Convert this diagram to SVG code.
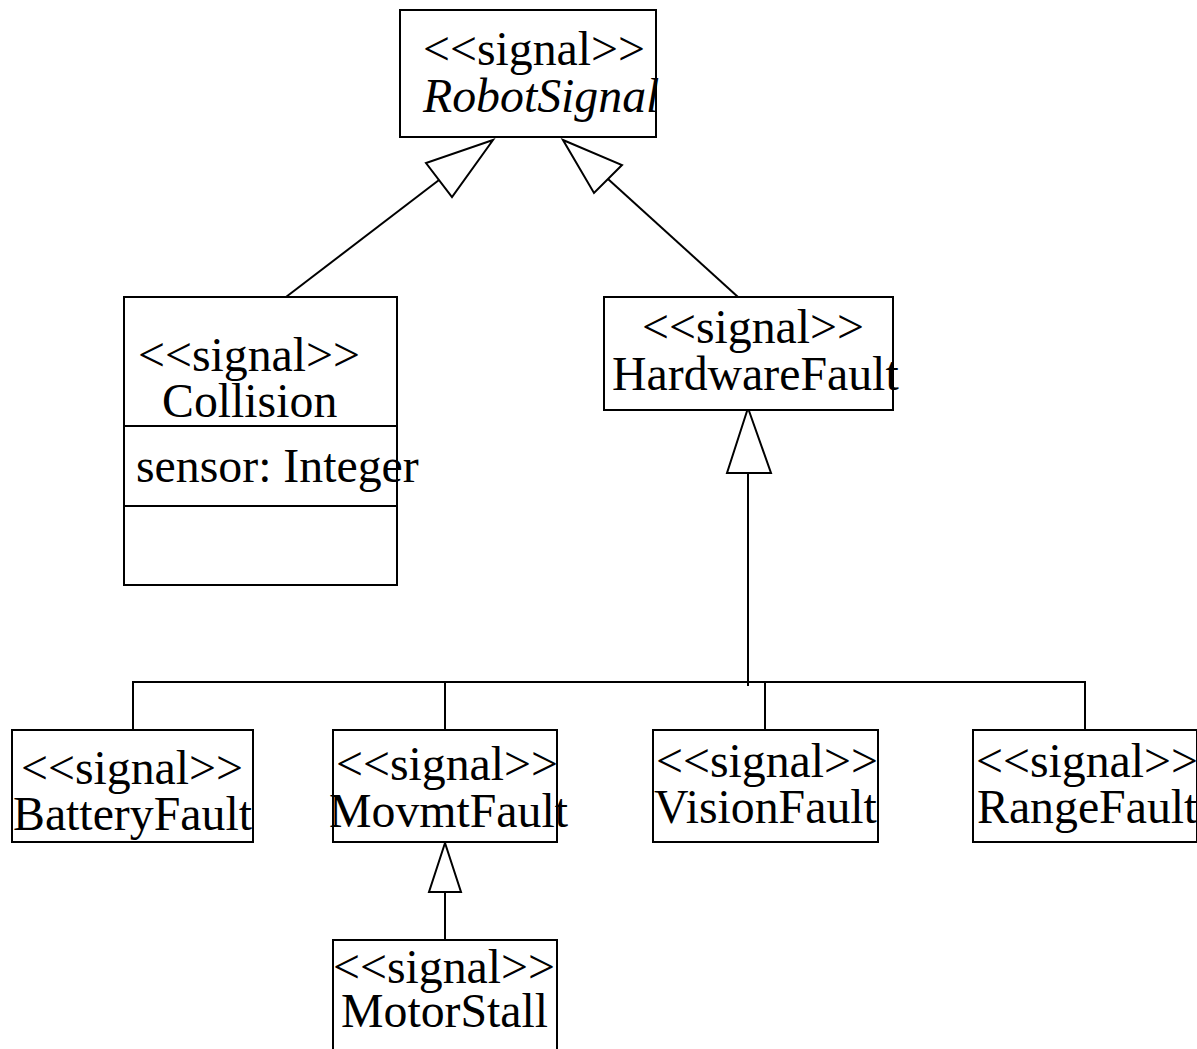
<svg xmlns="http://www.w3.org/2000/svg" width="1197" height="1049" viewBox="0 0 1197 1049">
  <style>
    .box { fill: #ffffff; stroke: #000000; stroke-width: 2; }
    .edge { fill: none; stroke: #000000; stroke-width: 2; }
    .head { fill: #ffffff; stroke: #000000; stroke-width: 2; stroke-linejoin: miter; }
    text { font-family: "Liberation Serif", "Times New Roman", serif; font-size: 47.8px; fill: #000000; }
    .abstract { font-style: italic; }
  </style>
  <rect width="1197" height="1049" fill="#ffffff"/>

  <!-- generalization connectors -->
  <g id="connectors">
    <line class="edge" x1="439" y1="180" x2="286" y2="297"/>
    <polygon class="head" points="493,140 426,163 452,197"/>
    <line class="edge" x1="608" y1="179" x2="738" y2="297"/>
    <polygon class="head" points="563,140 622,165 594,193"/>
    <line class="edge" x1="748" y1="473" x2="748" y2="686"/>
    <polygon class="head" points="748,408 727,473 771,473"/>
    <polyline class="edge" points="133,730 133,682 1085,682 1085,730"/>
    <line class="edge" x1="445" y1="682" x2="445" y2="730"/>
    <line class="edge" x1="765" y1="682" x2="765" y2="730"/>
    <line class="edge" x1="445" y1="892" x2="445" y2="940"/>
    <polygon class="head" points="445,843 429,892 461,892"/>
  </g>

  <g id="RobotSignal">
    <rect class="box" x="400" y="10" width="256" height="127"/>
    <text x="423" y="65">&lt;&lt;signal&gt;&gt;</text>
    <text class="abstract" x="423" y="112">RobotSignal</text>
  </g>

  <g id="Collision">
    <rect class="box" x="124" y="297" width="273" height="288"/>
    <line class="edge" x1="124" y1="426" x2="397" y2="426"/>
    <line class="edge" x1="124" y1="506" x2="397" y2="506"/>
    <text x="138" y="371">&lt;&lt;signal&gt;&gt;</text>
    <text x="162" y="417">Collision</text>
    <text x="136" y="482">sensor: Integer</text>
  </g>

  <g id="HardwareFault">
    <rect class="box" x="604" y="297" width="289" height="113"/>
    <text x="642" y="343">&lt;&lt;signal&gt;&gt;</text>
    <text x="612" y="390">HardwareFault</text>
  </g>

  <g id="BatteryFault">
    <rect class="box" x="12" y="730" width="241" height="112"/>
    <text x="21" y="784">&lt;&lt;signal&gt;&gt;</text>
    <text x="13" y="830">BatteryFault</text>
  </g>

  <g id="MovmtFault">
    <rect class="box" x="333" y="730" width="224" height="112"/>
    <text x="336" y="780">&lt;&lt;signal&gt;&gt;</text>
    <text x="329" y="827">MovmtFault</text>
  </g>

  <g id="VisionFault">
    <rect class="box" x="653" y="730" width="225" height="112"/>
    <text x="656" y="777">&lt;&lt;signal&gt;&gt;</text>
    <text x="654" y="823">VisionFault</text>
  </g>

  <g id="RangeFault">
    <rect class="box" x="973" y="730" width="224" height="112"/>
    <text x="976" y="777">&lt;&lt;signal&gt;&gt;</text>
    <text x="977" y="823">RangeFault</text>
  </g>

  <g id="MotorStall">
    <rect class="box" x="333" y="940" width="224" height="130"/>
    <text x="333" y="983">&lt;&lt;signal&gt;&gt;</text>
    <text x="341" y="1027">MotorStall</text>
  </g>
</svg>
